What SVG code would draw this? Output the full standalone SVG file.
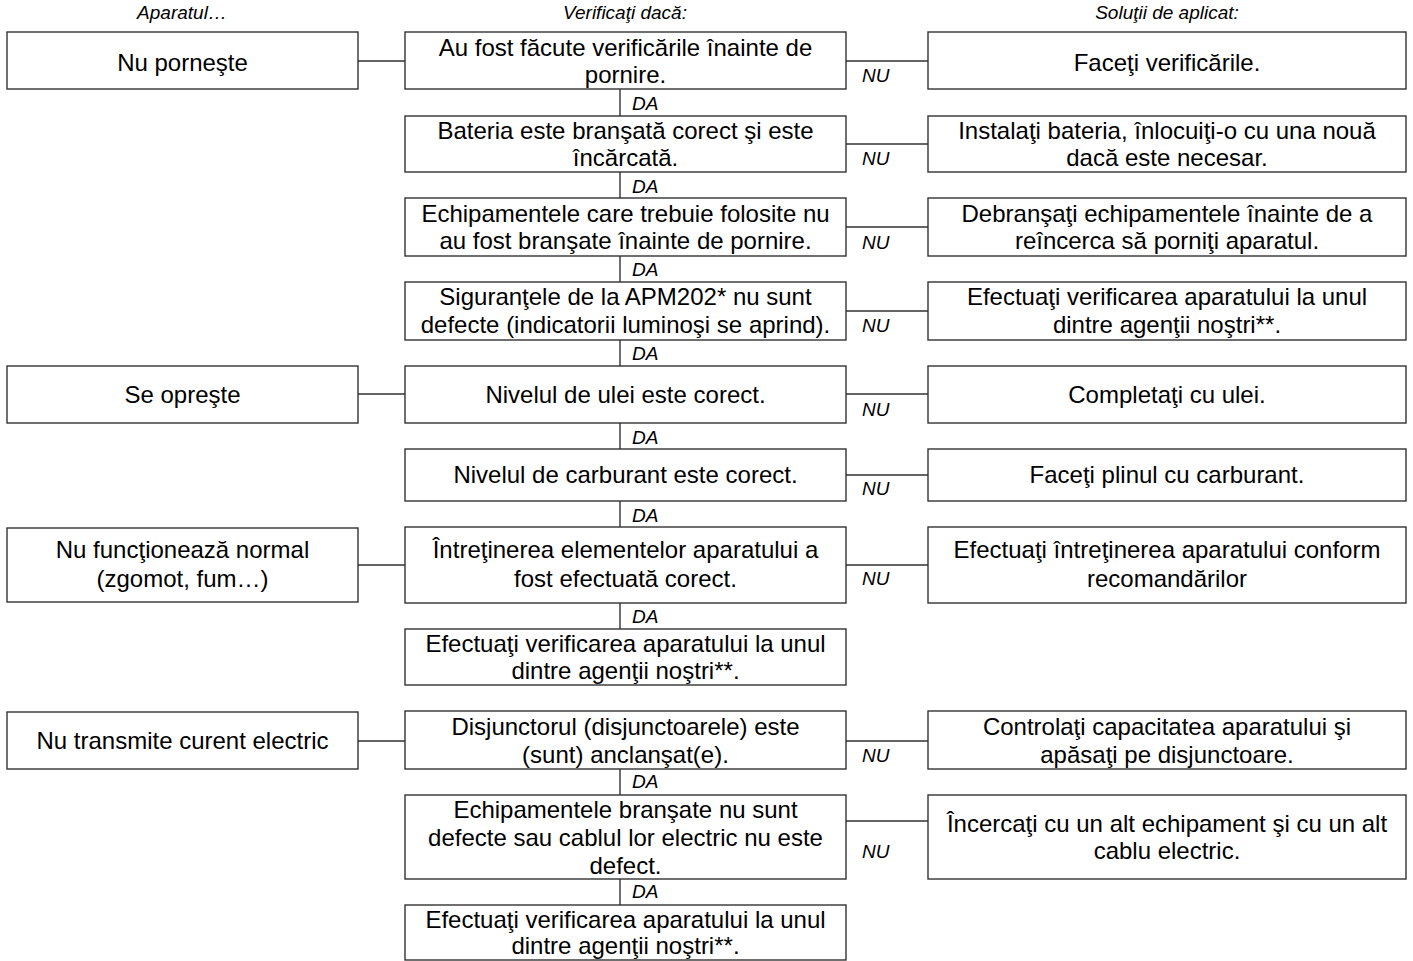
<svg xmlns="http://www.w3.org/2000/svg" width="1413" height="961" viewBox="0 0 1413 961">
<style>
.b{fill:#fff;stroke:#333;stroke-width:1.4}
.t{font-family:"Liberation Sans",Arial,sans-serif;font-size:24px;fill:#000;text-anchor:middle}
.i{font-family:"Liberation Sans",Arial,sans-serif;font-size:19px;font-style:italic;fill:#000}
.h{text-anchor:middle}
.c{stroke:#333;stroke-width:1.4;fill:none}
</style>
<rect width="1413" height="961" fill="#fff"/>
<g id="headers">
<text class="i h" x="182" y="19">Aparatul…</text>
<text class="i h" x="625" y="19">Verificaţi dacă:</text>
<text class="i h" x="1167" y="19">Soluţii de aplicat:</text>
</g>
<g id="connectors">
<path class="c" d="M358 61H405M358 394H405M358 565H405M358 741H405"/>
<path class="c" d="M846 61H928M846 144H928M846 227H928M846 311H928M846 394H928M846 475H928M846 565H928M846 741H928M846 821H928"/>
<path class="c" d="M620 89V116M620 172V198M620 256V282M620 340V366M620 423V449M620 501V527M620 603V629M620 769V795M620 879V905"/>
<g class="i">
<text x="862" y="82">NU</text><text x="862" y="165">NU</text><text x="862" y="249">NU</text><text x="862" y="332">NU</text><text x="862" y="416">NU</text><text x="862" y="495">NU</text><text x="862" y="585">NU</text><text x="862" y="762">NU</text><text x="862" y="858">NU</text>
<text x="632" y="110">DA</text><text x="632" y="193">DA</text><text x="632" y="276">DA</text><text x="632" y="360">DA</text><text x="632" y="444">DA</text><text x="632" y="522">DA</text><text x="632" y="623">DA</text><text x="632" y="788">DA</text><text x="632" y="898">DA</text>
</g>
</g>
<g id="L1"><rect class="b" x="7" y="32" width="351" height="57"/><text class="t" x="182.5" y="71">Nu porneşte</text></g>
<g id="L5"><rect class="b" x="7" y="366" width="351" height="57"/><text class="t" x="182.5" y="403">Se opreşte</text></g>
<g id="L7"><rect class="b" x="7" y="528" width="351" height="74"/><text class="t" x="182.5" y="558">Nu funcţionează normal</text><text class="t" x="182.5" y="587">(zgomot, fum…)</text></g>
<g id="L9"><rect class="b" x="7" y="712" width="351" height="57"/><text class="t" x="182.5" y="749">Nu transmite curent electric</text></g>

<g id="M1"><rect class="b" x="405" y="32" width="441" height="57"/><text class="t" x="625.5" y="56">Au fost făcute verificările înainte de</text><text class="t" x="625.5" y="83">pornire.</text></g>
<g id="M2"><rect class="b" x="405" y="116" width="441" height="56"/><text class="t" x="625.5" y="139">Bateria este branşată corect şi este</text><text class="t" x="625.5" y="166">încărcată.</text></g>
<g id="M3"><rect class="b" x="405" y="198" width="441" height="58"/><text class="t" x="625.5" y="222">Echipamentele care trebuie folosite nu</text><text class="t" x="625.5" y="249">au fost branşate înainte de pornire.</text></g>
<g id="M4"><rect class="b" x="405" y="282" width="441" height="58"/><text class="t" x="625.5" y="305">Siguranţele de la APM202* nu sunt</text><text class="t" x="625.5" y="333">defecte (indicatorii luminoşi se aprind).</text></g>
<g id="M5"><rect class="b" x="405" y="366" width="441" height="57"/><text class="t" x="625.5" y="403">Nivelul de ulei este corect.</text></g>
<g id="M6"><rect class="b" x="405" y="449" width="441" height="52"/><text class="t" x="625.5" y="483">Nivelul de carburant este corect.</text></g>
<g id="M7"><rect class="b" x="405" y="527" width="441" height="76"/><text class="t" x="625.5" y="558">Întreţinerea elementelor aparatului a</text><text class="t" x="625.5" y="587">fost efectuată corect.</text></g>
<g id="M8"><rect class="b" x="405" y="629" width="441" height="56"/><text class="t" x="625.5" y="652">Efectuaţi verificarea aparatului la unul</text><text class="t" x="625.5" y="679">dintre agenţii noştri**.</text></g>
<g id="M9"><rect class="b" x="405" y="711" width="441" height="58"/><text class="t" x="625.5" y="735">Disjunctorul (disjunctoarele) este</text><text class="t" x="625.5" y="763">(sunt) anclanşat(e).</text></g>
<g id="M10"><rect class="b" x="405" y="795" width="441" height="84"/><text class="t" x="625.5" y="818">Echipamentele branşate nu sunt</text><text class="t" x="625.5" y="846">defecte sau cablul lor electric nu este</text><text class="t" x="625.5" y="874">defect.</text></g>
<g id="M11"><rect class="b" x="405" y="905" width="441" height="55"/><text class="t" x="625.5" y="928">Efectuaţi verificarea aparatului la unul</text><text class="t" x="625.5" y="954">dintre agenţii noştri**.</text></g>

<g id="R1"><rect class="b" x="928" y="32" width="478" height="57"/><text class="t" x="1167" y="71">Faceţi verificările.</text></g>
<g id="R2"><rect class="b" x="928" y="116" width="478" height="56"/><text class="t" x="1167" y="139">Instalaţi bateria, înlocuiţi-o cu una nouă</text><text class="t" x="1167" y="166">dacă este necesar.</text></g>
<g id="R3"><rect class="b" x="928" y="198" width="478" height="58"/><text class="t" x="1167" y="222">Debranşaţi echipamentele înainte de a</text><text class="t" x="1167" y="249">reîncerca să porniţi aparatul.</text></g>
<g id="R4"><rect class="b" x="928" y="282" width="478" height="58"/><text class="t" x="1167" y="305">Efectuaţi verificarea aparatului la unul</text><text class="t" x="1167" y="333">dintre agenţii noştri**.</text></g>
<g id="R5"><rect class="b" x="928" y="366" width="478" height="57"/><text class="t" x="1167" y="403">Completaţi cu ulei.</text></g>
<g id="R6"><rect class="b" x="928" y="449" width="478" height="52"/><text class="t" x="1167" y="483">Faceţi plinul cu carburant.</text></g>
<g id="R7"><rect class="b" x="928" y="527" width="478" height="76"/><text class="t" x="1167" y="558">Efectuaţi întreţinerea aparatului conform</text><text class="t" x="1167" y="587">recomandărilor</text></g>
<g id="R9"><rect class="b" x="928" y="711" width="478" height="58"/><text class="t" x="1167" y="735">Controlaţi capacitatea aparatului şi</text><text class="t" x="1167" y="763">apăsaţi pe disjunctoare.</text></g>
<g id="R10"><rect class="b" x="928" y="795" width="478" height="84"/><text class="t" x="1167" y="832">Încercaţi cu un alt echipament şi cu un alt</text><text class="t" x="1167" y="859">cablu electric.</text></g>
</svg>
